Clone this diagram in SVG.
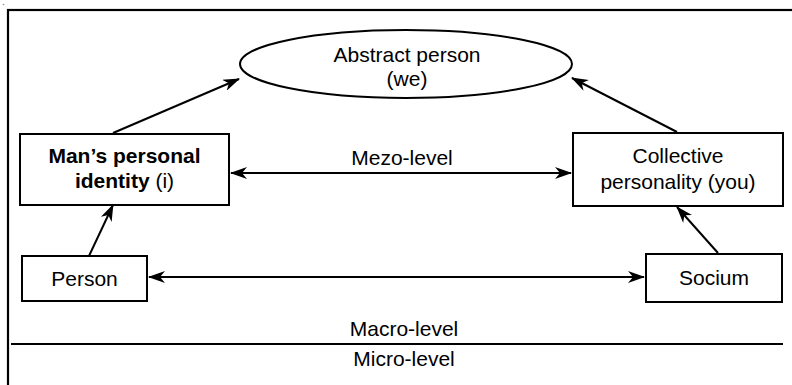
<svg xmlns="http://www.w3.org/2000/svg" width="792" height="385" viewBox="0 0 792 385">
  <style>
    .box { fill: #ffffff; stroke: #000000; stroke-width: 2; }
    .frame { fill: none; stroke: #000000; stroke-width: 2.2; }
    .link { fill: none; stroke: #000000; stroke-width: 2; }
    text { font-family: "Liberation Sans", Arial, sans-serif; font-size: 21px; fill: #000000; text-anchor: middle; }
    .b { font-weight: bold; }
  </style>
  <defs>
    <marker id="arrow" viewBox="0 0 17 12" refX="16" refY="6" markerWidth="17" markerHeight="12" markerUnits="userSpaceOnUse" orient="auto-start-reverse">
      <path d="M0,0 L17,6 L0,12 L5,6 Z" fill="#000000"/>
    </marker>
  </defs>

  <rect width="792" height="385" fill="#ffffff"/>
  <circle cx="3.5" cy="4.5" r="0.8" fill="#888888"/>

  <!-- outer frame and level divider -->
  <g id="frame">
    <rect class="frame" x="8" y="10" width="800" height="400"/>
    <line class="link" x1="11" y1="344" x2="783" y2="344"/>
    <text x="404" y="336">Macro-level</text>
    <text x="404" y="366">Micro-level</text>
  </g>

  <g id="connectors">
    <line class="link" x1="113" y1="133" x2="239" y2="79" marker-end="url(#arrow)"/>
    <line class="link" x1="677" y1="132" x2="572" y2="78" marker-end="url(#arrow)"/>
    <line class="link" x1="231" y1="173" x2="571" y2="173" marker-start="url(#arrow)" marker-end="url(#arrow)"/>
    <line class="link" x1="149" y1="277" x2="644" y2="277" marker-start="url(#arrow)" marker-end="url(#arrow)"/>
    <line class="link" x1="89" y1="256" x2="113" y2="205" marker-end="url(#arrow)"/>
    <line class="link" x1="718" y1="253" x2="677" y2="207" marker-end="url(#arrow)"/>
    <text x="402" y="165">Mezo-level</text>
  </g>

  <g id="abstract-person">
    <ellipse class="box" cx="406" cy="64" rx="166" ry="34"/>
    <text x="407" y="62">Abstract person</text>
    <text x="407" y="86">(we)</text>
  </g>

  <g id="personal-identity">
    <rect class="box" x="20" y="134" width="209" height="71"/>
    <text x="124.5" y="163" class="b">Man’s personal</text>
    <text x="124.5" y="188"><tspan class="b">identity</tspan> (i)</text>
  </g>

  <g id="collective-personality">
    <rect class="box" x="573" y="133" width="210" height="73"/>
    <text x="678" y="163">Collective</text>
    <text x="678" y="189">personality (you)</text>
  </g>

  <g id="person">
    <rect class="box" x="22" y="256" width="125" height="45"/>
    <text x="84.5" y="286">Person</text>
  </g>

  <g id="socium">
    <rect class="box" x="646" y="254" width="136" height="48"/>
    <text x="714" y="285">Socium</text>
  </g>
</svg>
